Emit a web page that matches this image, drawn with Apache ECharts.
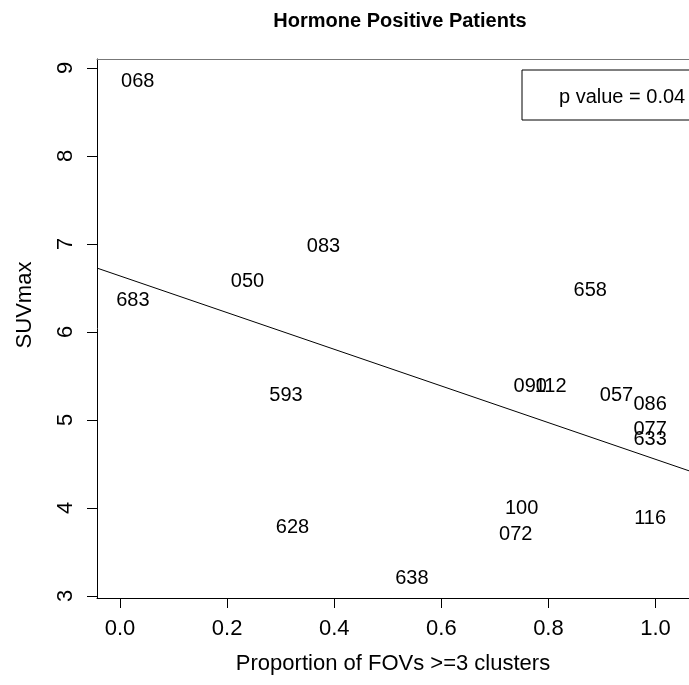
<!DOCTYPE html>
<html>
<head>
<meta charset="utf-8">
<script src="https://cdn.jsdelivr.net/npm/echarts@6/dist/echarts.min.js"></script>
<style>
html,body{margin:0;padding:0;background:#fff}
#main{width:689px;height:685px}
</style>
</head>
<body>
<div id="main"></div>
<script>
// patient labels, plotted as text at (proportion, SUVmax)
var patientIds = ['068','683','050','083','658','593','628','638','090','112','057','086','077','633','100','072','116'];
var propFov    = [0.033,0.024,0.238,0.380,0.878,0.310,0.322,0.545,0.766,0.804,0.927,0.990,0.990,0.990,0.750,0.739,0.990];
var suvMax     = [8.85,6.36,6.57,6.97,6.47,5.28,3.78,3.20,5.38,5.38,5.28,5.18,4.89,4.78,3.99,3.70,3.88];
// fitted line, ends read at the plot edges
var fitLine = [[-0.043,6.725],[1.0625,4.422]];
var xTicks = [0,0.2,0.4,0.6,0.8,1.0];
var yTicks = [3,4,5,6,7,8,9];
var pText = 'p value = 0.04';

var FONT = 'Liberation Sans, Arial, Helvetica, sans-serif';

var points = [];
for (var i = 0; i < patientIds.length; i++) {
    points.push({value: [propFov[i], suvMax[i]], name: patientIds[i]});
}

var myChart = echarts.init(document.getElementById('main'));

var option = {
    backgroundColor: '#fff',
    animation: false,
    title: {
        text: 'Hormone Positive Patients',
        left: 395,
        top: 6,
        textAlign: 'center',
        textStyle: {fontFamily: FONT, fontSize: 20, fontWeight: 'bold', color: '#000'}
    },
    grid: {left: 97, top: 59, right: 0, bottom: 87},
    xAxis: [{
        type: 'value',
        min: -0.043,
        max: 1.0625,
        name: 'Proportion of FOVs >=3 clusters',
        nameLocation: 'middle',
        nameGap: 55,
        nameTextStyle: {fontFamily: FONT, fontSize: 22, color: '#000'},
        splitLine: {show: false},
        axisLine: {show: true, onZero: false, lineStyle: {color: '#000', width: 1}},
        axisTick: {show: true, length: 10, customValues: xTicks, lineStyle: {color: '#000'}},
        axisLabel: {
            customValues: xTicks,
            margin: 20,
            fontFamily: FONT, fontSize: 22, color: '#000',
            formatter: function (v) { return v.toFixed(1); }
        }
    }, {
        type: 'value',
        position: 'top',
        min: -0.043,
        max: 1.0625,
        splitLine: {show: false},
        axisLine: {show: true, onZero: false, lineStyle: {color: '#777', width: 1}},
        axisTick: {show: false},
        axisLabel: {show: false}
    }],
    yAxis: {
        type: 'value',
        min: 2.977,
        max: 9.10,
        splitLine: {show: false},
        axisLine: {show: true, onZero: false, lineStyle: {color: '#000', width: 1}},
        axisTick: {show: true, length: 10, customValues: yTicks, lineStyle: {color: '#000'}},
        axisLabel: {
            customValues: yTicks,
            rotate: 90,
            margin: 20,
            fontFamily: FONT, fontSize: 22, color: '#000'
        }
    },
    graphic: [
        {
            type: 'rect',
            shape: {x: 522, y: 70, width: 220, height: 50},
            style: {fill: 'none', stroke: '#000', lineWidth: 1}
        },
        {
            type: 'text',
            x: 559, y: 97,
            style: {text: pText, font: '20px ' + FONT, fill: '#000', verticalAlign: 'middle', align: 'left'}
        },
        {
            type: 'text',
            x: 25, y: 305,
            rotation: Math.PI / 2,
            style: {text: 'SUVmax', font: '22px ' + FONT, fill: '#000', verticalAlign: 'middle', align: 'center'}
        }
    ],
    series: [
        {
            type: 'scatter',
            symbolSize: 0,
            data: points,
            itemStyle: {opacity: 1},
            label: {
                show: true,
                position: 'inside',
                formatter: function (p) { return p.name; },
                fontFamily: FONT, fontSize: 20, color: '#000', opacity: 1
            },
            silent: true
        },
        {
            type: 'line',
            data: fitLine,
            symbol: 'none',
            lineStyle: {color: '#000', width: 1},
            silent: true
        }
    ]
};

myChart.setOption(option);
</script>
</body>
</html>
